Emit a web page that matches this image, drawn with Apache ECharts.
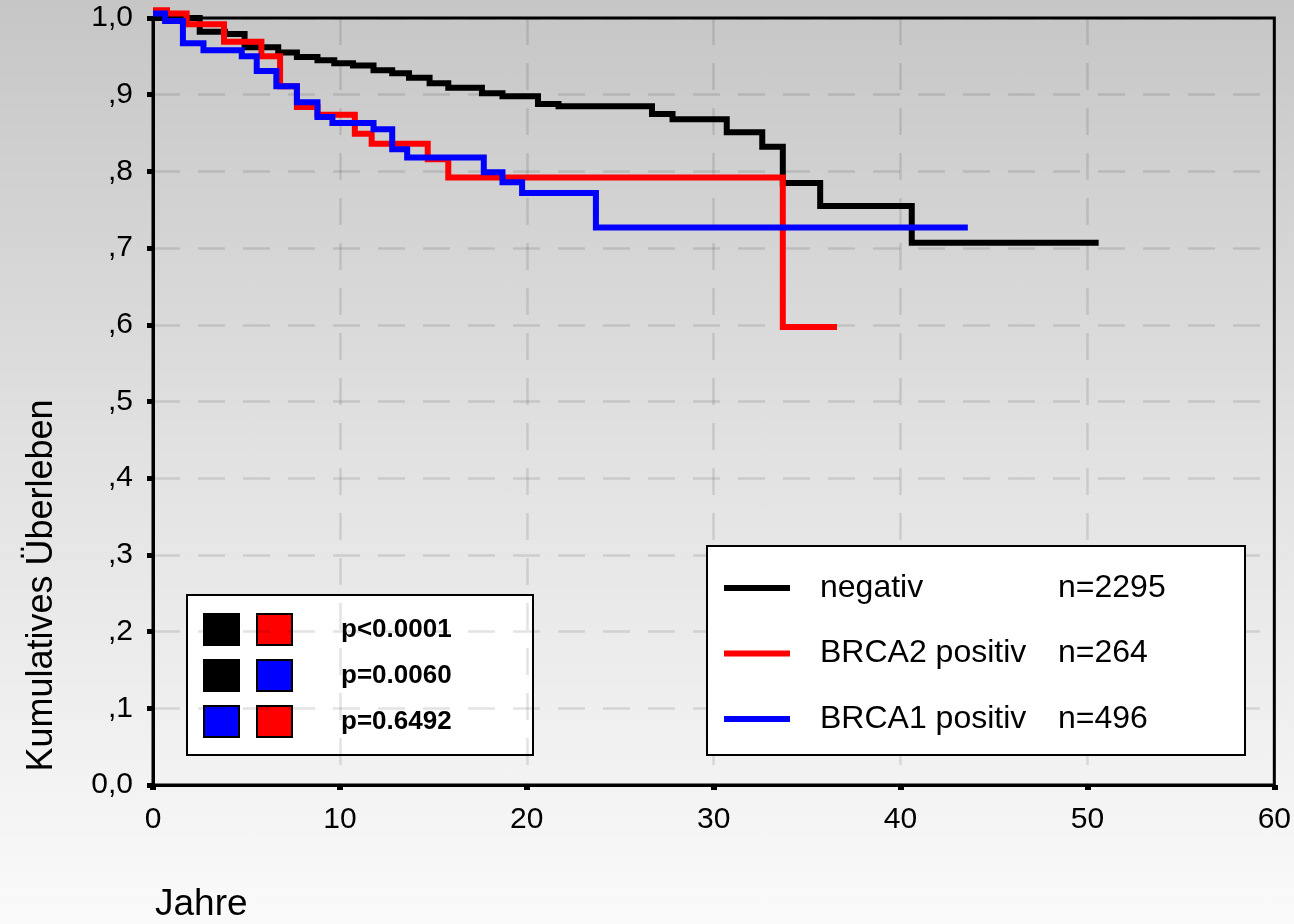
<!DOCTYPE html>
<html>
<head>
<meta charset="utf-8">
<script src="https://cdn.jsdelivr.net/npm/echarts@6/dist/echarts.min.js"></script>
<style>
html,body{margin:0;padding:0;}
#chart{width:1294px;height:924px;background:linear-gradient(to bottom,#c6c6c6 0%,#e2e2e2 50%,#fafafa 100%);}
</style>
</head>
<body>
<div id="chart"></div>
<script>
// ---- data ----
const seriesNames = ['negativ', 'BRCA2 positiv', 'BRCA1 positiv'];
const seriesCounts = [2295, 264, 496];
const seriesColors = ['#000000', '#ff0000', '#0000ff'];

const negTime = [0, 2.5, 3.85, 4.9, 6.7, 7.7, 8.8, 9.7, 10.7, 11.8, 12.8, 13.7, 14.8, 15.8, 17.6, 18.7, 20.6, 21.7, 26.7, 27.8, 30.7, 32.6, 33.7, 35.7, 40.6, 50.6];
const negSurv = [1.0, 0.982, 0.979, 0.962, 0.955, 0.949, 0.945, 0.941, 0.938, 0.932, 0.928, 0.922, 0.915, 0.909, 0.902, 0.898, 0.888, 0.885, 0.875, 0.868, 0.851, 0.832, 0.785, 0.755, 0.707, 0.707];

const brca2Time = [0, 0.75, 1.8, 3.8, 5.8, 6.8, 7.7, 8.8, 10.8, 11.7, 14.7, 15.8, 33.7, 36.6];
const brca2Surv = [1.01, 1.006, 0.992, 0.969, 0.950, 0.911, 0.884, 0.874, 0.849, 0.836, 0.816, 0.792, 0.597, 0.597];

const brca1Time = [0, 0.65, 1.6, 2.7, 4.75, 5.55, 6.6, 7.7, 8.8, 9.6, 11.8, 12.8, 13.6, 17.7, 18.7, 19.75, 23.7, 43.6];
const brca1Surv = [1.006, 0.996, 0.967, 0.958, 0.950, 0.931, 0.911, 0.890, 0.871, 0.863, 0.855, 0.829, 0.818, 0.799, 0.786, 0.772, 0.727, 0.727];

const yTickLabels = ['0,0', ',1', ',2', ',3', ',4', ',5', ',6', ',7', ',8', ',9', '1,0'];
const xTickLabels = ['0', '10', '20', '30', '40', '50', '60'];

const pPairs = [['#000000', '#ff0000'], ['#000000', '#0000ff'], ['#0000ff', '#ff0000']];
const pLabels = ['p<0.0001', 'p=0.0060', 'p=0.6492'];

const xTitle = 'Jahre';
const yTitle = 'Kumulatives Überleben';

// ---- chart ----
const FONT = "'Liberation Sans', Arial, sans-serif";
const times = [negTime, brca2Time, brca1Time];
const survs = [negSurv, brca2Surv, brca1Surv];

const series = seriesNames.map((name, i) => ({
  name: name,
  type: 'line',
  step: 'end',
  symbol: 'none',
  clip: false,
  color: seriesColors[i],
  lineStyle: { width: 6, color: seriesColors[i], cap: 'butt', join: 'miter' },
  data: times[i].map((t, k) => [t, survs[i][k]]),
  z: 3 + i
}));

const pChildren = [{
  type: 'rect', shape: { x: 0, y: 0, width: 346, height: 160 },
  style: { fill: '#ffffff', stroke: '#000000', lineWidth: 2 }
}];
pLabels.forEach((lab, i) => {
  const top = 19 + i * 46;
  pPairs[i].forEach((c, j) => {
    pChildren.push({
      type: 'rect', shape: { x: 17 + j * 53, y: top, width: 35, height: 31 },
      style: { fill: c, stroke: '#000000', lineWidth: 2 }
    });
  });
  pChildren.push({
    type: 'text', x: 154, y: top + 15.5,
    style: { text: lab, font: "bold 26px " + FONT, fill: '#000', textVerticalAlign: 'middle', verticalAlign: 'middle' }
  });
});

const chart = echarts.init(document.getElementById('chart'), null, { renderer: 'canvas' });
chart.setOption({
  animation: false,
  backgroundColor: 'transparent',
  textStyle: { fontFamily: FONT },
  grid: {
    left: 153, right: 19, top: 18, bottom: 139,
    show: true, borderColor: '#000', borderWidth: 3, backgroundColor: 'transparent'
  },
  xAxis: {
    type: 'value', min: 0, max: 60, interval: 10,
    name: xTitle, nameLocation: 'start', nameGap: -2,
    nameTextStyle: { fontSize: 37, color: '#000', fontFamily: FONT, align: 'left', verticalAlign: 'top', padding: [101, 0, 0, 0] },
    axisLine: { show: true, lineStyle: { color: '#000', width: 3 } },
    axisTick: { show: true, length: 5, lineStyle: { color: '#000', width: 6 } },
    axisLabel: { fontSize: 30, color: '#000', fontFamily: FONT, margin: 20,
      formatter: v => xTickLabels[Math.round(v / 10)] },
    splitLine: { show: true, lineStyle: { color: 'rgba(0,0,0,0.11)', width: 2.5, type: [27, 18] } }
  },
  yAxis: {
    type: 'value', min: 0, max: 1, interval: 0.1,
    name: yTitle, nameLocation: 'middle', nameGap: 93,
    nameTextStyle: { fontSize: 36, color: '#000', fontFamily: FONT, padding: [0, 368, 0, 0] },
    axisLine: { show: true, lineStyle: { color: '#000', width: 3 } },
    axisTick: { show: true, length: 6, lineStyle: { color: '#000', width: 5 } },
    axisLabel: { fontSize: 30, color: '#000', fontFamily: FONT, margin: 20,
      formatter: v => yTickLabels[Math.round(v * 10)] },
    splitLine: { show: true, lineStyle: { color: 'rgba(0,0,0,0.11)', width: 2.5, type: [27, 18] } }
  },
  legend: {
    orient: 'vertical', left: 707, top: 546,
    backgroundColor: '#ffffff', borderColor: '#000', borderWidth: 2, borderRadius: 0,
    padding: [24, 0, 18, 17],
    itemWidth: 66, itemHeight: 6, itemGap: 29.5, icon: 'rect',
    data: seriesNames,
    formatter: name => '{a|' + name + '}{b|n=' + seriesCounts[seriesNames.indexOf(name)] + '}',
    textStyle: {
      fontSize: 32, color: '#000', fontFamily: FONT, lineHeight: 36,
      rich: {
        a: { fontSize: 32, fontFamily: FONT, color: '#000', width: 238, padding: [0, 0, 0, 25], lineHeight: 36 },
        b: { fontSize: 32, fontFamily: FONT, color: '#000', width: 187, lineHeight: 36 }
      }
    }
  },
  graphic: [{ type: 'group', left: 186, top: 594, children: pChildren }],
  series: series
});
</script>
</body>
</html>
